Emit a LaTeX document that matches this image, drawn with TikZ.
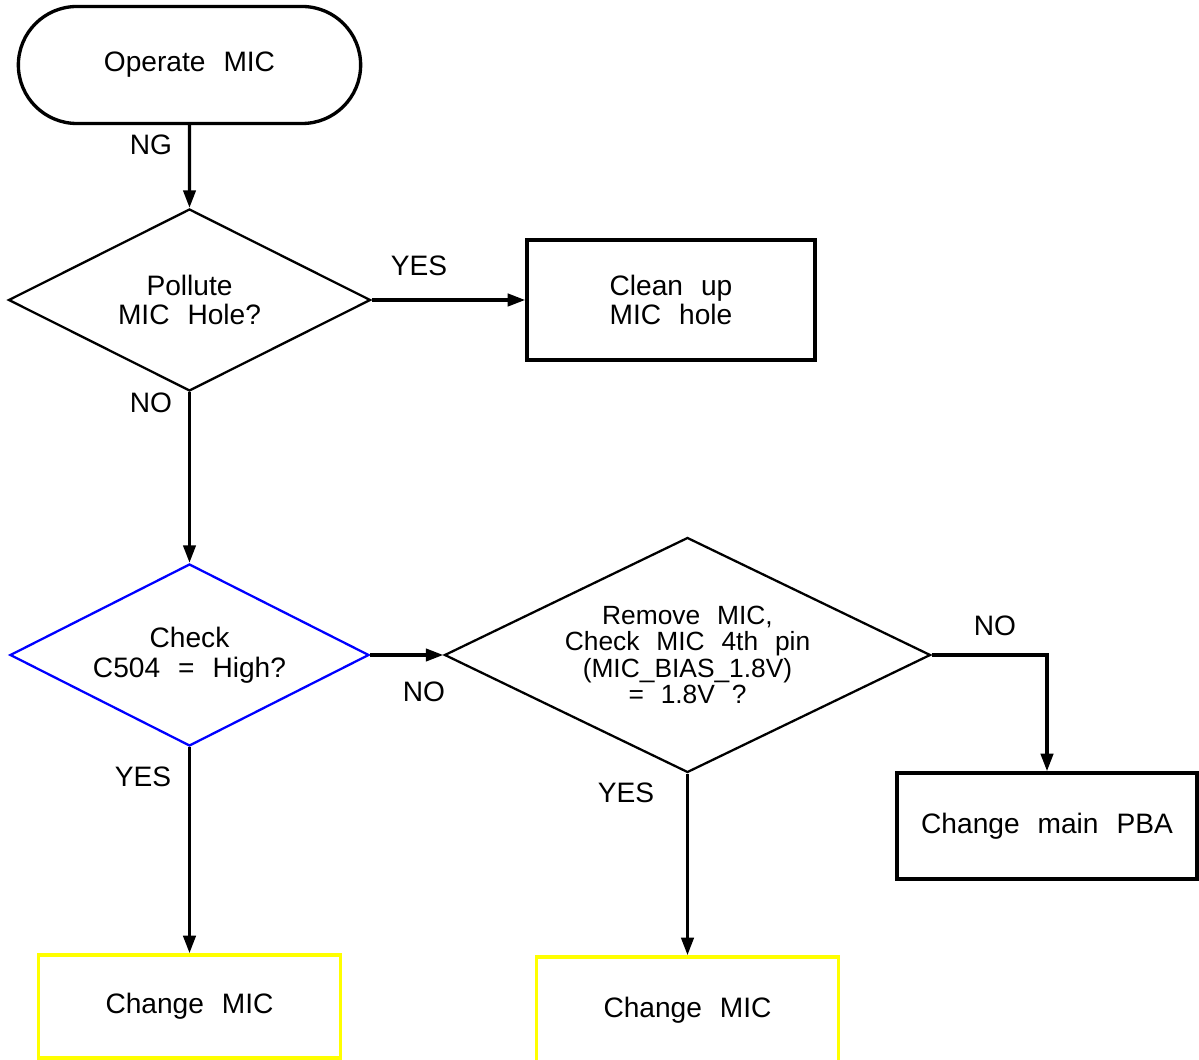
\documentclass[tikz,border=0pt]{standalone}
\usepackage{fontspec}
\setmainfont{Liberation Sans}[WordSpace=2.3]
\usetikzlibrary{shapes,arrows.meta}
\definecolor{markyellow}{rgb}{1,1,0}

\begin{document}
\begin{tikzpicture}[
    every node/.style={font=\fontsize{16}{17}\selectfont},
    terminal/.style={rounded rectangle, draw, line width=1.9pt, minimum width=7.08cm, minimum height=2.34cm},
    decision/.style={diamond, draw, line width=1.3pt, inner sep=0pt, aspect=2, align=center},
    stepbox/.style={rectangle, draw, line width=2pt, align=center},
    flow/.style={line width=1.9pt, -{Triangle[length=10pt,width=7pt]}},
  ]

    \useasboundingbox (0,0) rectangle (23.98,21.18);

    \node[terminal] (operate) at (3.79,19.88) {Operate MIC};
    \node[decision, minimum width=7.24cm, minimum height=3.64cm] (pollute) at (3.79,15.18) {Pollute\\MIC Hole?};
    \node[stepbox, minimum width=5.76cm, minimum height=2.40cm] (clean) at (13.42,15.18) {Clean up\\MIC hole};
    \node[decision, draw=blue, minimum width=7.18cm, minimum height=3.64cm] (check) at (3.79,8.08) {Check\\C504 = High?};
    \node[decision, minimum width=9.72cm, minimum height=4.70cm, font=\fontsize{15}{15}\selectfont] (remove) at (13.75,8.08) {Remove MIC,\\Check MIC 4th pin\\(MIC\_BIAS\_1.8V)\\= 1.8V ?};
    \node[stepbox, minimum width=6.00cm, minimum height=2.12cm] (pba) at (20.94,4.66) {Change main PBA};
    \node[stepbox, draw=markyellow, minimum width=6.04cm, minimum height=2.06cm] (micA) at (3.79,1.05) {Change MIC};
    \node[stepbox, draw=markyellow, minimum width=6.04cm, minimum height=2.12cm] (micB) at (13.75,0.98) {Change MIC};

    \node (ng) at (3.02,18.28) {NG};
    \node (yesclean) at (8.38,15.86) {YES};
    \node (nocheck) at (3.02,13.12) {NO};
    \node (noremove) at (8.48,7.34) {NO};
    \node (nopba) at (19.90,8.66) {NO};
    \node (yesmicA) at (2.86,5.64) {YES};
    \node (yesmicB) at (12.52,5.32) {YES};

    \draw[flow] (operate) -- (pollute);
    \draw[flow] (pollute) -- (clean);
    \draw[flow] (pollute) -- (check);
    \draw[flow] (check) -- (remove);
    \draw[flow] (remove.east) -| (pba.north);
    \draw[flow] (check) -- (micA);
    \draw[flow] (remove) -- (micB);

  \end{tikzpicture}
\end{document}
